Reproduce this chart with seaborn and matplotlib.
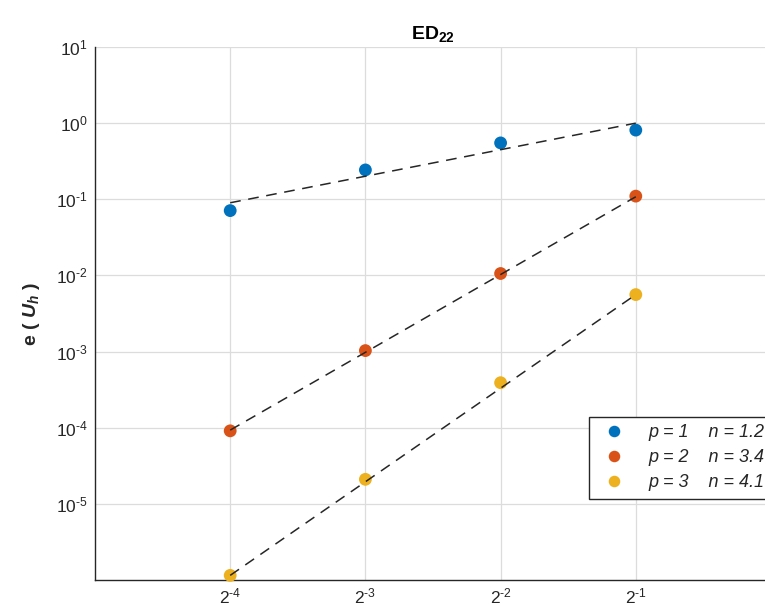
import numpy as np
import pandas as pd
import matplotlib
matplotlib.use("Agg")
import matplotlib.pyplot as plt
import seaborn as sns

# ---- data ----
h_vals = [2**-4, 2**-3, 2**-2, 2**-1]
err_p1 = [0.071, 0.243, 0.55, 0.81]
err_p2 = [9.1e-5, 1.03e-3, 1.06e-2, 0.11]
err_p3 = [1.15e-6, 2.1e-5, 3.9e-4, 5.6e-3]
fit_h = [2**-4, 2**-1]
fit_p1 = [0.09, 1.0]
fit_p2 = [9.3e-5, 0.108]
fit_p3 = [1.15e-6, 5.6e-3]
labels = ["p = 1    n = 1.2", "p = 2    n = 3.4", "p = 3    n = 4.1"]
colors = ["#0072BD", "#D95319", "#EDB120"]
xtick_vals = [2**-4, 2**-3, 2**-2, 2**-1]
xtick_labels = [r"$2^{\text{-4}}$", r"$2^{\text{-3}}$", r"$2^{\text{-2}}$", r"$2^{\text{-1}}$"]
ytick_vals = [1e-5, 1e-4, 1e-3, 1e-2, 1e-1, 1e0, 1e1]
ytick_labels = [r"$10^{\text{-5}}$", r"$10^{\text{-4}}$", r"$10^{\text{-3}}$", r"$10^{\text{-2}}$",
                r"$10^{\text{-1}}$", r"$10^{0}$", r"$10^{1}$"]

sns.set_style("white")
plt.rcParams["font.family"] = ["Liberation Sans", "DejaVu Sans"]
plt.rcParams["mathtext.fontset"] = "custom"
plt.rcParams["mathtext.rm"] = "Liberation Sans"
plt.rcParams["mathtext.it"] = "Liberation Sans:italic"
plt.rcParams["mathtext.bf"] = "Liberation Sans:bold"
plt.rcParams["mathtext.bfit"] = "Liberation Sans:bold:italic"

pts = pd.DataFrame({
    "h": h_vals * 3,
    "err": err_p1 + err_p2 + err_p3,
    "series": [labels[0]] * 4 + [labels[1]] * 4 + [labels[2]] * 4,
})
fits = pd.DataFrame({
    "h": fit_h * 3,
    "err": fit_p1 + fit_p2 + fit_p3,
    "series": [labels[0]] * 2 + [labels[1]] * 2 + [labels[2]] * 2,
})

fig = plt.figure(figsize=(7.65, 6.11), dpi=100)
ax = fig.add_axes([95 / 765, 1 - 580 / 611, (771 - 95) / 765, (580 - 47) / 611])
ax.set_xscale("log", base=2)
ax.set_yscale("log")

sns.scatterplot(data=pts, x="h", y="err", hue="series", hue_order=labels,
                palette=colors, s=85, edgecolor="none", ax=ax, zorder=3,
                clip_on=False)
for lab in labels:
    sub = fits[fits["series"] == lab]
    sns.lineplot(data=sub, x="h", y="err", color="#262626", lw=1.1,
                 linestyle=(0, (7, 5)), ax=ax, legend=False, zorder=4)

ax.set_xlim(2**-5, 2**0)
ax.set_ylim(1e-6, 1e1)
ax.set_xticks(xtick_vals)
ax.set_xticklabels(xtick_labels)
ax.set_yticks(ytick_vals)
ax.set_yticklabels(ytick_labels)
ax.minorticks_off()
ax.grid(True, color="#dcdcdc", lw=0.9)
ax.set_axisbelow(True)
for s in ["top", "right"]:
    ax.spines[s].set_visible(False)
for s in ["left", "bottom"]:
    ax.spines[s].set_color("#262626")
    ax.spines[s].set_linewidth(1.0)
ax.tick_params(direction="in", length=5, width=1, colors="#262626",
               labelsize=12.5, labelcolor="#262626", pad=5)
ax.set_xlabel("")
ax.set_ylabel(r"$\mathbf{e\ (\ }\boldsymbol{U}_{\boldsymbol{h}}\mathbf{\ )}$",
              fontsize=14, color="#262626", labelpad=10)
ax.set_title(r"$\mathbf{ED}_{\mathbf{22}}$", fontsize=14, color="#000000", pad=6)

handles, labs = ax.get_legend_handles_labels()
leg = ax.legend(handles, labs, loc="upper left",
                bbox_to_anchor=((589 - 95) / 676, (580 - 417) / 533),
                borderaxespad=0,
                frameon=True, fancybox=False, edgecolor="#262626",
                framealpha=1, prop={"style": "italic", "size": 13},
                handletextpad=0.9, borderpad=0.4, labelspacing=0.45,
                handlelength=2.0, markerscale=0.9)
leg.get_frame().set_linewidth(1.0)
for t in leg.get_texts():
    t.set_color("#262626")

fig.savefig("out.png", dpi=100)
